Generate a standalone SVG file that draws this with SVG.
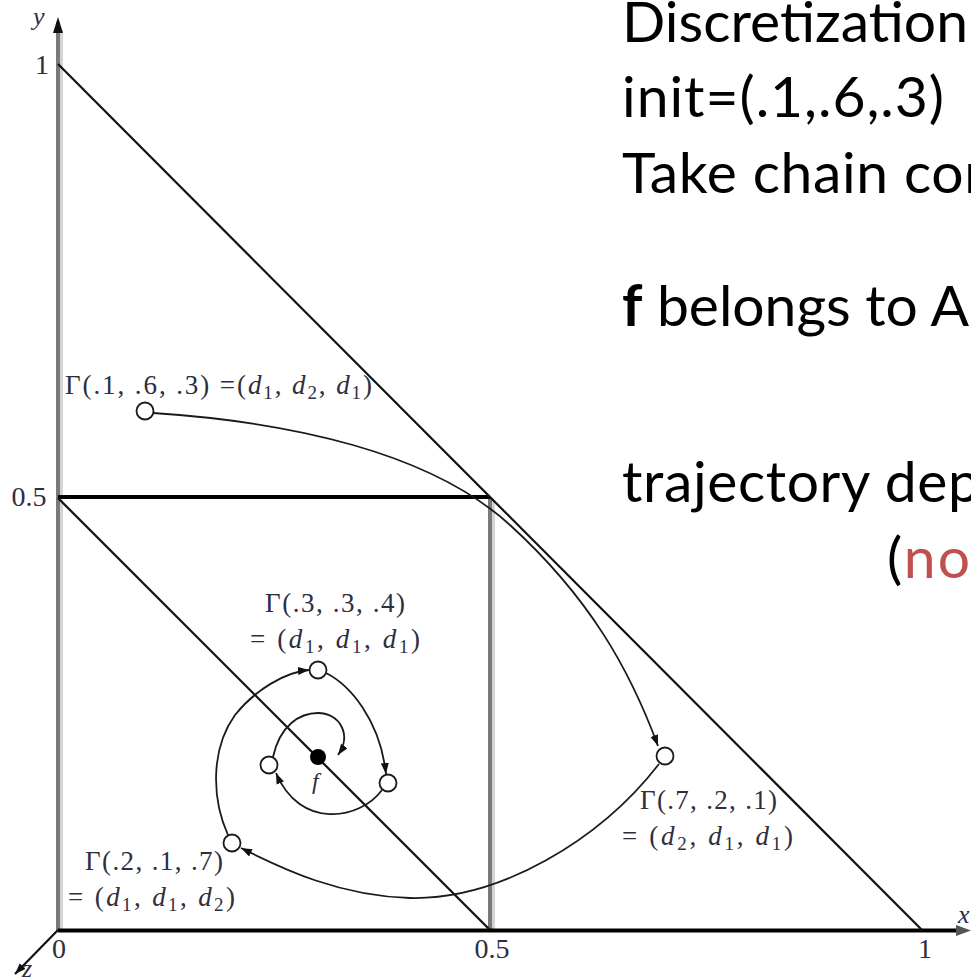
<svg xmlns="http://www.w3.org/2000/svg" width="971" height="979" viewBox="0 0 971 979">
<style>
.lbl{font-family:"Liberation Serif",serif;font-size:27px;fill:#2e2e40}
.it{font-style:italic}
.sub{font-size:19px}
.tick{font-family:"Liberation Serif",serif;font-size:28px;fill:#2e2e40}
.ax{font-family:"Liberation Serif",serif;font-size:26px;font-style:italic;fill:#2e2e40}
.txt{font-family:Lato,"Open Sans",sans-serif;font-size:57px;fill:#000}
.curve{fill:none;stroke:#1a1a1a;stroke-width:1.8}
.pt{fill:#fff;stroke:#1a1a1a;stroke-width:1.8}
.blk{stroke:#111;stroke-width:2.2}
.thick{stroke:#000;stroke-width:4}
.gray{stroke:#7a7a7a;stroke-width:4}
.lgray{stroke:#d4d4d4;stroke-width:3}
</style>
<defs>
<marker id="ah" markerUnits="userSpaceOnUse" markerWidth="14" markerHeight="10" refX="11" refY="4" orient="auto"><path d="M0,0 L11,4 L0,8 Z" fill="#111"/></marker>
</defs>
<rect width="971" height="979" fill="#fff"/>

<g id="axes">
  <line class="lgray" x1="61.5" y1="30" x2="61.5" y2="929"/>
  <line class="gray" x1="58" y1="22" x2="58" y2="932"/>
  <polygon points="58,17 53,33 63,33" fill="#111"/>
  <line class="lgray" x1="493.5" y1="500" x2="493.5" y2="929"/>
  <line class="gray" x1="490" y1="497" x2="490" y2="930"/>
  <line class="thick" x1="58" y1="497" x2="490" y2="497"/>
  <line class="thick" x1="58" y1="930.5" x2="962" y2="930.5"/>
  <polygon points="971,930.5 956,925 956,936" fill="#555"/>
  <line class="blk" x1="58" y1="64" x2="922" y2="930"/>
  <line class="blk" x1="58" y1="498" x2="490" y2="930"/>
  <line class="blk" x1="58" y1="930" x2="15" y2="974" marker-end="url(#ah)"/>
  <text class="tick" x="42" y="74" text-anchor="middle">1</text>
  <text class="tick" x="29" y="506" text-anchor="middle">0.5</text>
  <text class="tick" x="59" y="958" text-anchor="middle">0</text>
  <text class="tick" x="492" y="958" text-anchor="middle">0.5</text>
  <text class="tick" x="925" y="958" text-anchor="middle">1</text>
  <text class="ax" x="33" y="25">y</text>
  <text class="ax" x="958" y="923">x</text>
  <text class="ax" x="22" y="977">z</text>
</g>

<g id="connectors">
  <path class="curve" d="M153,413 C290,422 430,452 510,525 C590,598 630,670 658,746" marker-end="url(#ah)"/>
  <path class="curve" d="M659,764 C600,840 500,900 410,898 C340,896 285,870 241,848" marker-end="url(#ah)"/>
  <path class="curve" d="M228,835 C212,800 210,750 235,715 C255,690 285,672 309,670" marker-end="url(#ah)"/>
  <path class="curve" d="M326,673 C350,685 380,720 386,774" marker-end="url(#ah)"/>
  <path class="curve" d="M382,790 C360,820 300,830 276,773" marker-end="url(#ah)"/>
  <path class="curve" d="M273,757 C280,725 300,713 318,713 C340,713 352,735 338,755" marker-end="url(#ah)"/>
</g>

<g id="p1">
  <circle class="pt" cx="145" cy="411" r="8.5"/>
  <text class="lbl" x="65" y="394" textLength="307">Γ(.1, .6, .3) =(<tspan class="it">d</tspan><tspan class="sub" dy="5">1</tspan><tspan dy="-5">, </tspan><tspan class="it">d</tspan><tspan class="sub" dy="5">2</tspan><tspan dy="-5">, </tspan><tspan class="it">d</tspan><tspan class="sub" dy="5">1</tspan><tspan dy="-5">)</tspan></text>
</g>
<g id="p2">
  <circle class="pt" cx="318" cy="670" r="8.5"/>
  <text class="lbl" x="265" y="612" textLength="140">Γ(.3, .3, .4)</text>
  <text class="lbl" x="250" y="648" textLength="170">= (<tspan class="it">d</tspan><tspan class="sub" dy="5">1</tspan><tspan dy="-5">, </tspan><tspan class="it">d</tspan><tspan class="sub" dy="5">1</tspan><tspan dy="-5">, </tspan><tspan class="it">d</tspan><tspan class="sub" dy="5">1</tspan><tspan dy="-5">)</tspan></text>
</g>
<g id="p3">
  <circle class="pt" cx="665" cy="756" r="8.5"/>
  <text class="lbl" x="640" y="809" textLength="137">Γ(.7, .2, .1)</text>
  <text class="lbl" x="622" y="845" textLength="171">= (<tspan class="it">d</tspan><tspan class="sub" dy="5">2</tspan><tspan dy="-5">, </tspan><tspan class="it">d</tspan><tspan class="sub" dy="5">1</tspan><tspan dy="-5">, </tspan><tspan class="it">d</tspan><tspan class="sub" dy="5">1</tspan><tspan dy="-5">)</tspan></text>
</g>
<g id="p4">
  <circle class="pt" cx="232" cy="843" r="8.5"/>
  <text class="lbl" x="85" y="870" textLength="138">Γ(.2, .1, .7)</text>
  <text class="lbl" x="68" y="906" textLength="167">= (<tspan class="it">d</tspan><tspan class="sub" dy="5">1</tspan><tspan dy="-5">, </tspan><tspan class="it">d</tspan><tspan class="sub" dy="5">1</tspan><tspan dy="-5">, </tspan><tspan class="it">d</tspan><tspan class="sub" dy="5">2</tspan><tspan dy="-5">)</tspan></text>
</g>
<g id="p5"><circle class="pt" cx="388" cy="783" r="8.5"/></g>
<g id="p6"><circle class="pt" cx="269" cy="765" r="8.5"/></g>
<g id="f">
  <circle cx="318" cy="757" r="8" fill="#000"/>
  <text class="lbl it" x="312" y="789" style="font-size:24px">f</text>
</g>

<g id="notes">
  <text class="txt" x="622" y="42" textLength="346">Discretization</text>
  <text class="txt" x="622" y="117" textLength="322">init=(.1,.6,.3)</text>
  <text class="txt" x="622" y="193" textLength="374">Take chain con</text>
  <text class="txt" x="622" y="326" textLength="347"><tspan font-weight="bold">f</tspan> belongs to A</text>
  <text class="txt" x="622" y="502" textLength="358">trajectory dep</text>
  <text class="txt" x="887" y="578" textLength="105">(<tspan fill="#c0504d">not</tspan></text>
</g>
</svg>
